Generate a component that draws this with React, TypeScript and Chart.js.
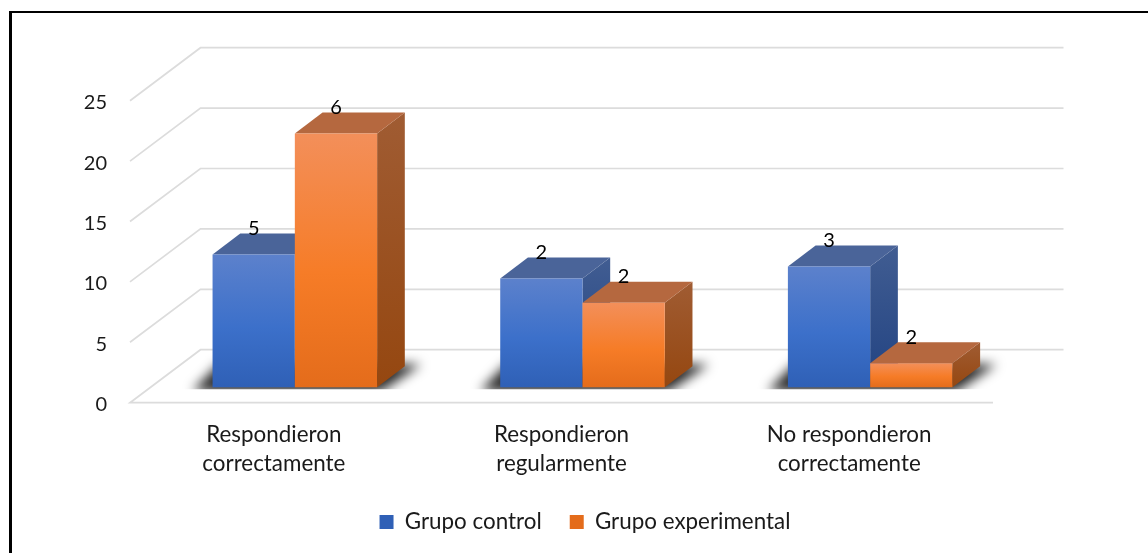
import React, { useEffect, useRef } from "react";
import { Chart, registerables } from "chart.js";

Chart.register(...registerables);

const categories = [
  ["Respondieron", "correctamente"],
  ["Respondieron", "regularmente"],
  ["No respondieron", "correctamente"],
];
const seriesNames = ["Grupo control", "Grupo experimental"];
const grupoControl = [11, 9, 10];
const grupoExperimental = [21, 7, 2];
const labelsControl = ["5", "2", "3"];
const labelsExperimental = ["6", "2", "2"];
const yTicks = [0, 5, 10, 15, 20, 25];

const FONT = "Lato, Carlito, sans-serif";
const DEPTH_FLOOR = { x: 70.5, y: 53 };
const DEPTH_BAR = { x: 27.7, y: 21 };
const BAR_SHIFT = { x: 21, y: -15.4 };

const blueFront = ["#5c81cc", "#3c70ca", "#2f60b6"];
const orangeFront = ["#f38f5a", "#f67c27", "#e46c1b"];
const blueTop = "#4a6499";
const orangeTop = "#b5683f";
const blueSide = ["#415d92", "#224382"];
const orangeSide = ["#a05c33", "#954710"];

function frontFill(stops: string[]) {
  return (c: any) => {
    const { ctx } = c.chart;
    let top = 514;
    let bottom = 528;
    if (c.type === "data" && c.parsed && c.chart.scales.y) {
      const a = c.chart.scales.y.getPixelForValue(c.parsed.y);
      const b = c.chart.scales.y.getPixelForValue(0);
      if (Number.isFinite(a) && Number.isFinite(b) && a !== b) {
        top = a;
        bottom = b;
      }
    }
    const g = ctx.createLinearGradient(0, top, 0, bottom);
    g.addColorStop(0, stops[0]);
    g.addColorStop(0.55, stops[1]);
    g.addColorStop(1, stops[2]);
    return g;
  };
}

function drawBarSet(chart: any, index: number) {
  const { ctx, scales } = chart;
  const meta = chart.getDatasetMeta(index);
  const top = index === 0 ? blueTop : orangeTop;
  const side = index === 0 ? blueSide : orangeSide;
  const base = scales.y.getPixelForValue(0) + BAR_SHIFT.y;
  meta.data.forEach((bar: any) => {
    const l = bar.x - bar.width / 2 + BAR_SHIFT.x;
    const r = bar.x + bar.width / 2 + BAR_SHIFT.x;
    const t = bar.y + BAR_SHIFT.y;
    const dx = DEPTH_BAR.x;
    const dy = DEPTH_BAR.y;
    ctx.save();
    const g = ctx.createLinearGradient(0, t - dy, 0, base);
    g.addColorStop(0, side[0]);
    g.addColorStop(1, side[1]);
    ctx.fillStyle = g;
    ctx.beginPath();
    ctx.moveTo(r, t);
    ctx.lineTo(r + dx, t - dy);
    ctx.lineTo(r + dx, base - dy);
    ctx.lineTo(r, base);
    ctx.closePath();
    ctx.fill();
    ctx.fillStyle = top;
    ctx.beginPath();
    ctx.moveTo(l, t);
    ctx.lineTo(l + dx, t - dy);
    ctx.lineTo(r + dx, t - dy);
    ctx.lineTo(r, t);
    ctx.closePath();
    ctx.fill();
    ctx.restore();
  });
  ctx.save();
  ctx.translate(BAR_SHIFT.x, BAR_SHIFT.y);
  meta.controller.draw();
  ctx.restore();
}

const scene3d = {
  id: "scene3d",
  beforeDatasetsDraw(chart: any) {
    const { ctx, chartArea, scales } = chart;
    ctx.save();
    ctx.strokeStyle = "#dcdcdc";
    ctx.lineWidth = 1.7;
    yTicks.forEach((v) => {
      const y = scales.y.getPixelForValue(v);
      ctx.beginPath();
      if (v === 0) {
        ctx.moveTo(chartArea.right, y);
        ctx.lineTo(chartArea.left, y);
      } else {
        ctx.moveTo(chartArea.left, y);
      }
      ctx.lineTo(chartArea.left + DEPTH_FLOOR.x, y - DEPTH_FLOOR.y);
      ctx.lineTo(chartArea.right + DEPTH_FLOOR.x, y - DEPTH_FLOOR.y);
      ctx.stroke();
    });
    ctx.restore();

    // Soft floor shadow under each bar group, cut off just below the bar base
    const first = chart.getDatasetMeta(0).data;
    const second = chart.getDatasetMeta(1).data;
    first.forEach((bar: any, i: number) => {
      const left = bar.x - bar.width / 2 + BAR_SHIFT.x;
      const right = second[i].x + second[i].width / 2 + BAR_SHIFT.x;
      const base = scales.y.getPixelForValue(0) + BAR_SHIFT.y;
      ctx.save();
      ctx.beginPath();
      ctx.rect(left - 60, base - 60, right - left + 160, 62);
      ctx.clip();
      ctx.filter = "blur(6px)";
      ctx.fillStyle = "rgba(0,0,0,0.85)";
      ctx.beginPath();
      ctx.moveTo(left - 20, base + 4);
      ctx.lineTo(right + 4, base + 4);
      ctx.lineTo(right + 44, base - 23);
      ctx.lineTo(left + 6, base - 23);
      ctx.closePath();
      ctx.fill();
      ctx.restore();
    });

    // Back series first, so the front faces of the second series overlap it
    drawBarSet(chart, 0);
    drawBarSet(chart, 1);
  },
  beforeDatasetDraw() {
    return false;
  },
  afterDatasetsDraw(chart: any) {
    const { ctx } = chart;
    const texts = [labelsControl, labelsExperimental];
    ctx.save();
    ctx.fillStyle = "#000000";
    ctx.font = `20px ${FONT}`;
    ctx.textAlign = "center";
    ctx.textBaseline = "middle";
    texts.forEach((list, d) => {
      chart.getDatasetMeta(d).data.forEach((bar: any, i: number) => {
        ctx.fillText(list[i], bar.x + BAR_SHIFT.x, bar.y + BAR_SHIFT.y - 26);
      });
    });
    ctx.restore();
  },
};

export default function App() {
  const ref = useRef<HTMLCanvasElement>(null);
  useEffect(() => {
    if (!ref.current) return;
    const chart = new Chart(ref.current, {
      type: "bar",
      data: {
        labels: categories,
        datasets: [
          {
            label: seriesNames[0],
            data: grupoControl,
            backgroundColor: frontFill(blueFront),
          },
          {
            label: seriesNames[1],
            data: grupoExperimental,
            backgroundColor: frontFill(orangeFront),
          },
        ] as any,
      },
      options: {
        animation: false,
        responsive: false,
        categoryPercentage: 0.572,
        barPercentage: 1,
        layout: { padding: { left: 22, right: 0, top: 100.7, bottom: 9.8 } },
        scales: {
          x: {
            grid: { display: false },
            border: { display: false },
            ticks: {
              color: "#1a1a1a",
              font: { family: FONT, size: 22.4, lineHeight: 1.29 },
              padding: 10,
              maxRotation: 0,
              autoSkip: false,
            },
            afterFit: (s: any) => {
              s.height = 80.1;
            },
          },
          y: {
            min: 0,
            max: 25,
            grid: { display: false },
            border: { display: false },
            ticks: {
              stepSize: 5,
              color: "#1a1a1a",
              font: { family: FONT, size: 20 },
              padding: 15,
              labelOffset: 2,
            },
            afterFit: (s: any) => {
              s.width = 108;
            },
          },
          rightGap: {
            position: "right",
            display: true,
            grid: { display: false },
            border: { display: false },
            ticks: { display: false },
            afterFit: (s: any) => {
              s.width = 155;
            },
          },
        } as any,
        plugins: {
          tooltip: { enabled: false },
          legend: {
            position: "bottom",
            labels: {
              color: "#1a1a1a",
              font: { family: FONT, size: 22.4 },
              boxWidth: 14,
              boxHeight: 14,
              padding: 28,
            },
          },
        },
      } as any,
      plugins: [scene3d],
    });
    return () => chart.destroy();
  }, []);
  return (
    <div
      style={{
        position: "fixed",
        left: 0,
        top: 0,
        width: 1148,
        height: 553,
        overflow: "hidden",
        background: "#fff",
      }}
    >
      <canvas ref={ref} width={1148} height={553} style={{ display: "block" }} />
      <div
        style={{
          position: "absolute",
          left: 9,
          top: 11,
          right: 0,
          bottom: 0,
          boxSizing: "border-box",
          borderTop: "2px solid #000",
          borderLeft: "3px solid #000",
          pointerEvents: "none",
        }}
      />
    </div>
  );
}
